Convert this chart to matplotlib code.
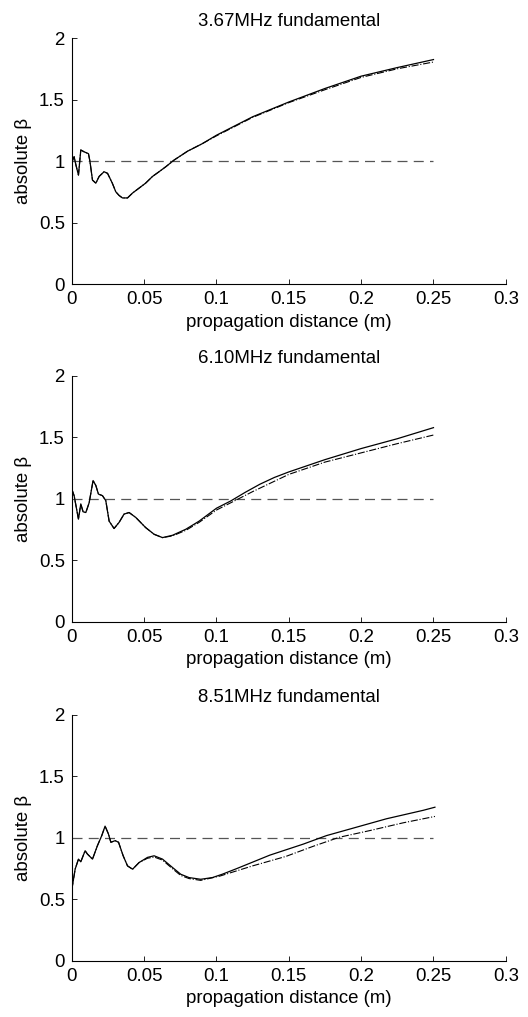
# beta absoluto vs distancia de propagacion, tres frecuencias fundamentales
import numpy as np
import matplotlib
matplotlib.use('Agg')
import matplotlib.pyplot as plt

plt.rcParams['font.family'] = ['Liberation Sans', 'DejaVu Sans']
fs = 13.4

# Datos
titulos = ['3.67MHz fundamental', '6.10MHz fundamental', '8.51MHz fundamental']

# 3.67 MHz (linea continua y linea punto-raya)
x1 = [0, 0.0016, 0.0028, 0.0046, 0.0062, 0.0085, 0.0115, 0.0125, 0.0143, 0.0166,
      0.0189, 0.0223, 0.0247, 0.028, 0.0304, 0.0327, 0.035, 0.0385, 0.042, 0.0465,
      0.051, 0.0558, 0.0603, 0.065, 0.0707, 0.08, 0.09, 0.1, 0.125, 0.15, 0.175,
      0.2, 0.225, 0.25]
y1 = [0.99, 1.035, 0.97, 0.886, 1.09, 1.075, 1.06, 1.0, 0.845, 0.82,
      0.875, 0.913, 0.90, 0.82, 0.75, 0.72, 0.70, 0.70, 0.74, 0.78,
      0.82, 0.875, 0.913, 0.954, 1.008, 1.08, 1.14, 1.21, 1.36, 1.48, 1.59,
      1.69, 1.76, 1.825]
x1b = [0, 0.0016, 0.0028, 0.0046, 0.0062, 0.0085, 0.0115, 0.0125, 0.0143, 0.0166,
       0.0189, 0.0223, 0.0247, 0.028, 0.0304, 0.0327, 0.035, 0.0385, 0.042, 0.0465,
       0.051, 0.0558, 0.0603, 0.065, 0.0707, 0.08, 0.09, 0.1, 0.125, 0.15, 0.175,
       0.2, 0.225, 0.25]
y1b = [0.99, 1.035, 0.97, 0.886, 1.09, 1.075, 1.06, 1.0, 0.845, 0.82,
       0.875, 0.913, 0.90, 0.82, 0.75, 0.72, 0.70, 0.70, 0.74, 0.78,
       0.82, 0.875, 0.913, 0.954, 1.008, 1.08, 1.14, 1.205, 1.355, 1.475, 1.58,
       1.68, 1.75, 1.805]

# 6.10 MHz
x2 = [0, 0.0016, 0.0046, 0.0062, 0.0078, 0.0097, 0.012, 0.0147, 0.0166, 0.0184,
      0.0212, 0.0235, 0.0258, 0.0292, 0.0327, 0.0361, 0.0396, 0.0442, 0.051,
      0.0569, 0.0627, 0.0696, 0.0788, 0.088, 0.1, 0.11, 0.12, 0.13, 0.14, 0.15,
      0.175, 0.2, 0.225, 0.25]
y2 = [1.08, 1.027, 0.836, 0.96, 0.896, 0.89, 0.97, 1.15, 1.11, 1.04,
      1.027, 0.986, 0.82, 0.76, 0.81, 0.877, 0.89, 0.85, 0.768,
      0.713, 0.686, 0.705, 0.754, 0.82, 0.925, 0.985, 1.055, 1.12, 1.175, 1.22,
      1.32, 1.41, 1.49, 1.58]
x2b = [0, 0.0016, 0.0046, 0.0062, 0.0078, 0.0097, 0.012, 0.0147, 0.0166, 0.0184,
       0.0212, 0.0235, 0.0258, 0.0292, 0.0327, 0.0361, 0.0396, 0.0442, 0.051,
       0.0569, 0.0627, 0.0696, 0.0788, 0.088, 0.1, 0.11, 0.125, 0.15, 0.175, 0.2,
       0.225, 0.25]
y2b = [1.08, 1.027, 0.836, 0.96, 0.896, 0.89, 0.97, 1.15, 1.11, 1.04,
       1.027, 0.986, 0.82, 0.76, 0.81, 0.877, 0.89, 0.85, 0.768,
       0.713, 0.686, 0.70, 0.745, 0.81, 0.91, 0.97, 1.06, 1.20, 1.30, 1.375,
       1.45, 1.52]

# 8.51 MHz
x3 = [0, 0.0023, 0.0046, 0.0062, 0.0092, 0.0108, 0.0143, 0.0177, 0.0207, 0.023,
      0.0253, 0.027, 0.03, 0.0323, 0.0355, 0.0385, 0.042, 0.0465, 0.0523, 0.0569,
      0.0627, 0.0696, 0.0753, 0.081, 0.0891, 0.0972, 0.104, 0.1138, 0.1368, 0.16,
      0.176, 0.1945, 0.2175, 0.243, 0.251]
y3 = [0.58, 0.746, 0.828, 0.806, 0.896, 0.869, 0.828, 0.937, 1.019, 1.096,
      1.033, 0.965, 0.978, 0.965, 0.855, 0.773, 0.746, 0.80, 0.842, 0.855,
      0.828, 0.76, 0.705, 0.678, 0.664, 0.678, 0.705, 0.75, 0.86, 0.95,
      1.019, 1.08, 1.156, 1.225, 1.25]
x3b = [0, 0.0023, 0.0046, 0.0062, 0.0092, 0.0108, 0.0143, 0.0177, 0.0207, 0.023,
       0.0253, 0.027, 0.03, 0.0323, 0.0355, 0.0385, 0.042, 0.0465, 0.0523, 0.0569,
       0.0627, 0.0696, 0.0753, 0.081, 0.0891, 0.1023, 0.125, 0.148, 0.1668, 0.185,
       0.206, 0.229, 0.251]
y3b = [0.58, 0.746, 0.828, 0.806, 0.896, 0.869, 0.828, 0.937, 1.019, 1.096,
       1.033, 0.965, 0.978, 0.965, 0.855, 0.773, 0.746, 0.80, 0.835, 0.845,
       0.82, 0.75, 0.695, 0.67, 0.655, 0.69, 0.773, 0.85, 0.932, 1.006,
       1.06, 1.123, 1.175]

# linea de referencia beta = 1
xref = [0, 0.25]
yref = [1, 1]

xticks = [0, 0.05, 0.1, 0.15, 0.2, 0.25, 0.3]
xticklabels = ['0', '0.05', '0.1', '0.15', '0.2', '0.25', '0.3']
yticks = [0, 0.5, 1, 1.5, 2]
yticklabels = ['0', '0.5', '1', '1.5', '2']

series = [(x1, y1, x1b, y1b), (x2, y2, x2b, y2b), (x3, y3, x3b, y3b)]
bottoms = [0.7207, 0.3884, 0.0551]

fig = plt.figure(figsize=(5.28, 10.17), dpi=100)

for i in range(3):
    ax = fig.add_axes([0.136, bottoms[i], 0.822, 0.2419])
    xs, ys, xb, yb = series[i]
    ax.plot(xref, yref, color='#555555', lw=0.9, dashes=(8, 5))
    ax.plot(xb, yb, color='black', lw=0.8, linestyle='-.')
    ax.plot(xs, ys, color='black', lw=0.9)
    ax.set_xlim(0, 0.3)
    ax.set_ylim(0, 2)
    ax.set_xticks(xticks)
    ax.set_xticklabels(xticklabels)
    ax.set_yticks(yticks)
    ax.set_yticklabels(yticklabels)
    ax.tick_params(direction='in', length=3.5, width=0.6, pad=5, labelsize=fs)
    ax.spines['top'].set_visible(False)
    ax.spines['right'].set_visible(False)
    ax.spines['left'].set_linewidth(0.8)
    ax.spines['bottom'].set_linewidth(0.8)
    ax.set_title(titulos[i], fontsize=fs, pad=9)
    ax.set_xlabel('propagation distance (m)', fontsize=fs, labelpad=4)
    ax.set_ylabel('absolute β', fontsize=fs, labelpad=5)

fig.savefig('out.png', dpi=100)
